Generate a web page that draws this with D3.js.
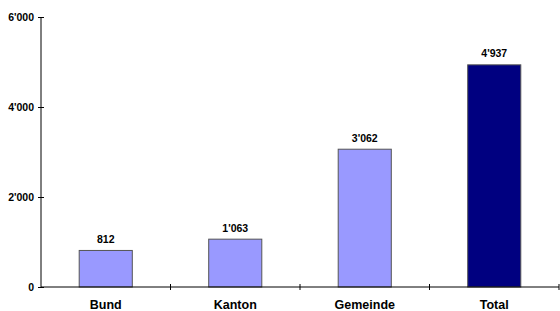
<!DOCTYPE html>
<html>
<head>
<meta charset="utf-8">
<script src="https://cdn.jsdelivr.net/npm/d3@7"></script>
<style>
  body { margin: 0; background: #fff; }
  text { font-family: "Liberation Sans", Arial, sans-serif; font-weight: bold; fill: #000; }
</style>
</head>
<body>
<div id="chart"></div>
<script>
var categories = ["Bund", "Kanton", "Gemeinde", "Total"];
var values = [812, 1063, 3062, 4937];
var barColors = ["#9999ff", "#9999ff", "#9999ff", "#000080"];
var yTicks = [0, 2000, 4000, 6000];

var WIDTH = 560;
var HEIGHT = 311;
var plotLeft = 41, plotRight = 559, plotTop = 17, plotBottom = 287;

var fmt = function(v) {
  return d3.format(",")(v).replace(/,/g, "'");
};

var svg = d3.select("#chart")
  .append("svg")
  .attr("width", WIDTH)
  .attr("height", HEIGHT);

var x = d3.scaleBand()
  .domain(categories)
  .range([plotLeft, plotRight])
  .paddingInner(0.59)
  .paddingOuter(0.295);

var y = d3.scaleLinear()
  .domain([0, 6000])
  .range([plotBottom, plotTop]);

// bars
svg.selectAll("rect.bar")
  .data(values)
  .enter()
  .append("rect")
  .attr("class", "bar")
  .attr("x", function(d, i) { return x(categories[i]); })
  .attr("y", function(d) { return y(d); })
  .attr("width", x.bandwidth())
  .attr("height", function(d) { return y(0) - y(d); })
  .style("fill", function(d, i) { return barColors[i]; })
  .style("stroke", "#555")
  .style("stroke-width", 1);

// value labels
svg.selectAll("text.val")
  .data(values)
  .enter()
  .append("text")
  .attr("class", "val")
  .attr("x", function(d, i) { return x(categories[i]) + x.bandwidth() / 2; })
  .attr("y", function(d) { return y(d) - 7.5; })
  .attr("text-anchor", "middle")
  .style("font-size", "10.5px")
  .text(fmt);

// y axis
var yAxis = svg.append("g")
  .attr("transform", "translate(" + plotLeft + ",0)")
  .call(d3.axisLeft(y).tickValues(yTicks).tickSize(3).tickFormat(fmt));
yAxis.select(".domain").remove();
yAxis.selectAll(".tick line").attr("x1", 3).attr("x2", -3).style("stroke", "#000");
yAxis.selectAll(".tick text")
  .attr("x", -7)
  .style("font-size", "10.5px")
  .style("font-family", "Liberation Sans, Arial, sans-serif")
  .style("font-weight", "bold");
yAxis.append("line")
  .attr("x1", 0).attr("x2", 0)
  .attr("y1", plotTop).attr("y2", plotBottom)
  .style("stroke", "#000");

// x axis: boundary ticks + labels
var step = x.step();
var bounds = d3.range(categories.length + 1).map(function(i) { return plotLeft + i * step; });

svg.append("line")
  .attr("x1", plotLeft).attr("x2", plotRight)
  .attr("y1", plotBottom).attr("y2", plotBottom)
  .style("stroke", "#000");

svg.selectAll("line.xtick")
  .data(bounds.slice(1))
  .enter()
  .append("line")
  .attr("class", "xtick")
  .attr("x1", function(d) { return d; })
  .attr("x2", function(d) { return d; })
  .attr("y1", plotBottom - 3)
  .attr("y2", plotBottom + 3)
  .style("stroke", "#000");

svg.selectAll("text.cat")
  .data(categories)
  .enter()
  .append("text")
  .attr("class", "cat")
  .attr("x", function(d) { return x(d) + x.bandwidth() / 2; })
  .attr("y", plotBottom + 21.5)
  .attr("text-anchor", "middle")
  .style("font-size", "12.5px")
  .text(function(d) { return d; });
</script>
</body>
</html>
